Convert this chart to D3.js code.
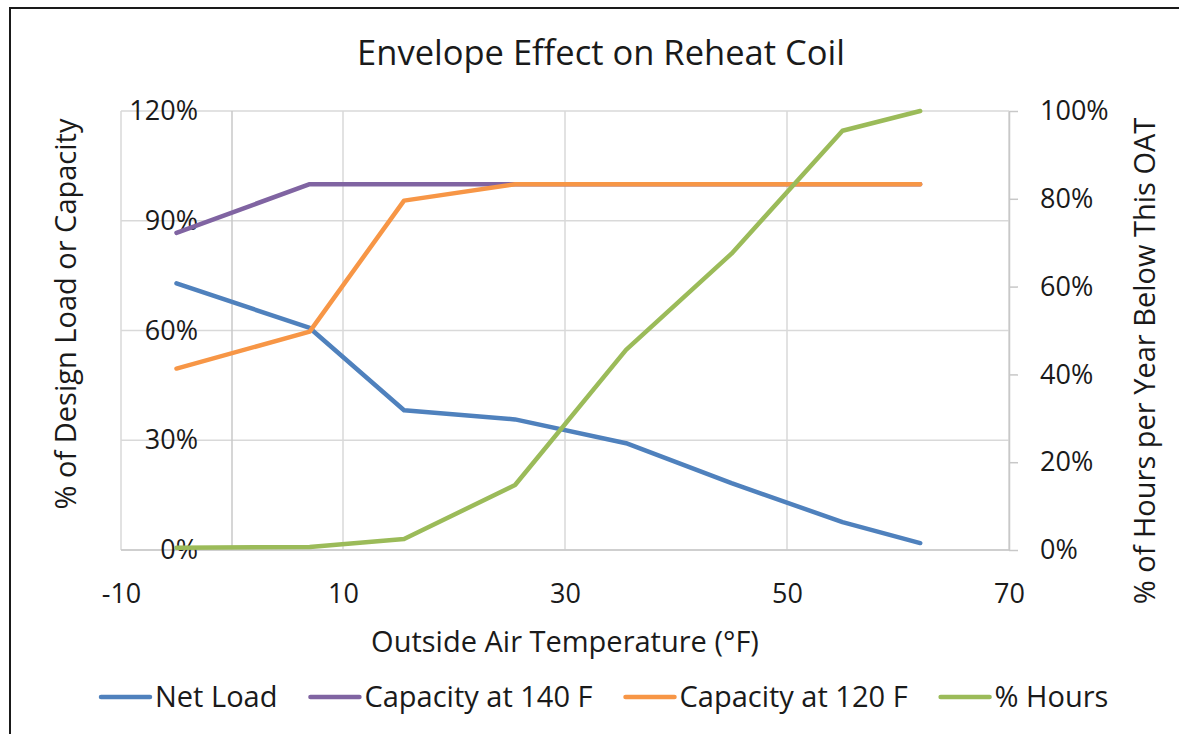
<!DOCTYPE html>
<html>
<head>
<meta charset="utf-8">
<script src="https://cdn.jsdelivr.net/npm/d3@7"></script>
<style>
  html, body { margin: 0; padding: 0; background: #fff; }
  svg { display: block; font-family: "Open Sans", "Noto Sans", sans-serif; }
</style>
</head>
<body>
<svg id="chart" width="1179" height="734"></svg>
<script>
// ---- Data ----
const temps   = [-5, 7, 15.5, 25.5, 35.5, 45, 55, 62];
const netLoad = [0.729, 0.607, 0.382, 0.357, 0.292, 0.183, 0.076, 0.019];
const cap140  = [0.867, 1.0, 1.0, 1.0, 1.0, 1.0, 1.0, 1.0];
const cap120  = [0.496, 0.597, 0.955, 1.0, 1.0, 1.0, 1.0, 1.0];
const hours   = [0.005, 0.007, 0.025, 0.148, 0.456, 0.675, 0.955, 1.0];

const xTicks      = [-10, 10, 30, 50, 70];
const yLeftTicks  = [0, 0.3, 0.6, 0.9, 1.2];
const yRightTicks = [0, 0.2, 0.4, 0.6, 0.8, 1.0];

const seriesNames  = ["Net Load", "Capacity at 140 F", "Capacity at 120 F", "% Hours"];
const seriesColors = ["#4F81BD", "#8064A2", "#F79646", "#9BBB59"];

const title  = "Envelope Effect on Reheat Coil";
const xTitle = "Outside Air Temperature (°F)";
const yLTitle = "% of Design Load or Capacity";
const yRTitle = "% of Hours per Year Below This OAT";

// ---- Layout ----
const svg = d3.select("#chart");
const L = 121, R = 1009, T = 111, B = 550;
const tickFont = "27px";
const titleFont = "29px";

const x  = d3.scaleLinear().domain([-10, 70]).range([L, R]);
const yL = d3.scaleLinear().domain([0, 1.2]).range([B, T]);
const yR = d3.scaleLinear().domain([0, 1.0]).range([B, T]);

// chart frame
svg.append("rect").attr("x", 10).attr("y", 8).attr("width", 1200).attr("height", 760)
  .attr("fill", "none").attr("stroke", "#1a1a1a").attr("stroke-width", 2);

const gridColor = "#d9d9d9";

// horizontal gridlines (left axis)
svg.append("g").selectAll("line").data(yLeftTicks).join("line")
  .attr("x1", L).attr("x2", R)
  .attr("y1", d => yL(d)).attr("y2", d => yL(d))
  .attr("stroke", gridColor).attr("stroke-width", 1.5);

// vertical gridlines
svg.append("g").selectAll("line").data(xTicks).join("line")
  .attr("x1", d => x(d)).attr("x2", d => x(d))
  .attr("y1", T).attr("y2", B)
  .attr("stroke", gridColor).attr("stroke-width", 1.5);

// vertical axis line crossing at x = 0
svg.append("line").attr("x1", x(0)).attr("x2", x(0)).attr("y1", T).attr("y2", B)
  .attr("stroke", "#c8c8c8").attr("stroke-width", 1.5);

// bottom axis line
svg.append("line").attr("x1", L).attr("x2", R).attr("y1", B).attr("y2", B)
  .attr("stroke", "#c8c8c8").attr("stroke-width", 1.5);

// right axis
const rightAxis = d3.axisRight(yR).tickValues(yRightTicks).tickFormat(d3.format(".0%"))
  .tickSizeInner(9).tickSizeOuter(0).tickPadding(22);
const gR = svg.append("g").attr("transform", `translate(${R},0)`).call(rightAxis);
gR.select(".domain").attr("stroke", "#c8c8c8").attr("stroke-width", 1.5);
gR.selectAll(".tick line").attr("stroke", "#c8c8c8").attr("stroke-width", 1.5);
gR.selectAll(".tick text").attr("fill", "#1a1a1a").style("font-size", tickFont)
  .style("font-family", "'Open Sans', sans-serif");

// left axis labels
const leftAxis = d3.axisLeft(yL).tickValues(yLeftTicks).tickFormat(d3.format(".0%"))
  .tickSize(0).tickPadding(0);
const gL = svg.append("g").attr("transform", `translate(198,0)`).call(leftAxis);
gL.select(".domain").remove();
gL.selectAll(".tick text").attr("fill", "#1a1a1a").style("font-size", tickFont)
  .style("font-family", "'Open Sans', sans-serif");

// bottom axis labels
const bottomAxis = d3.axisBottom(x).tickValues(xTicks).tickFormat(d3.format("d"))
  .tickSize(0).tickPadding(34);
const gB = svg.append("g").attr("transform", `translate(0,${B})`).call(bottomAxis);
gB.select(".domain").remove();
gB.selectAll(".tick text").attr("fill", "#1a1a1a").style("font-size", tickFont)
  .style("font-family", "'Open Sans', sans-serif")
  .text(d => d < 0 ? "-" + Math.abs(d) : d);

// ---- Lines ----
const seriesData = [netLoad, cap140, cap120, hours];
const scales = [yL, yL, yL, yR];
seriesData.forEach((vals, i) => {
  const line = d3.line().x((d, j) => x(temps[j])).y(d => scales[i](d));
  svg.append("path").datum(vals)
    .attr("d", line)
    .attr("fill", "none")
    .attr("stroke", seriesColors[i])
    .attr("stroke-width", 4.5)
    .attr("stroke-linecap", "round")
    .attr("stroke-linejoin", "round");
});

// ---- Titles ----
svg.append("text").attr("x", 601).attr("y", 65).attr("text-anchor", "middle")
  .style("font-size", "34.5px").attr("fill", "#1a1a1a").text(title);

svg.append("text").attr("x", 565).attr("y", 652).attr("text-anchor", "middle")
  .style("font-size", titleFont).attr("fill", "#1a1a1a").text(xTitle);

svg.append("text").attr("transform", "translate(76,314) rotate(-90)").attr("text-anchor", "middle")
  .style("font-size", titleFont).attr("fill", "#1a1a1a").text(yLTitle);

svg.append("text").attr("transform", "translate(1155,361) rotate(-90)").attr("text-anchor", "middle")
  .style("font-size", titleFont).attr("fill", "#1a1a1a").text(yRTitle);

// ---- Legend ----
let lx = 101;
const ly = 697;
seriesNames.forEach((name, i) => {
  svg.append("line").attr("x1", lx).attr("x2", lx + 49).attr("y1", ly).attr("y2", ly)
    .attr("stroke", seriesColors[i]).attr("stroke-width", 4.5).attr("stroke-linecap", "round");
  const t = svg.append("text").attr("x", lx + 54).attr("y", ly + 10)
    .style("font-size", "29px").attr("fill", "#1a1a1a").text(name);
  const w = t.node().getComputedTextLength();
  lx = lx + 54 + w + 33;
});
</script>
</body>
</html>
